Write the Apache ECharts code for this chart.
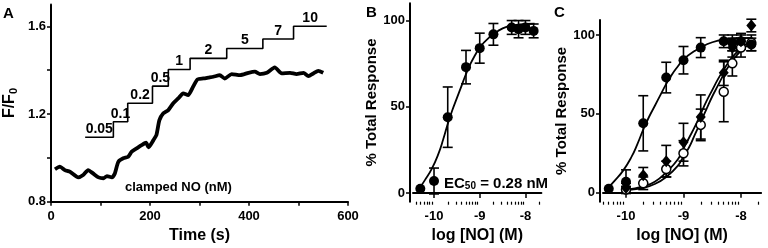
<!DOCTYPE html>
<html>
<head>
<meta charset="utf-8">
<script src="https://cdn.jsdelivr.net/npm/echarts@6/dist/echarts.min.js"></script>
<style>
  html, body { margin: 0; padding: 0; background: #fff; }
  #main { width: 768px; height: 248px; }
</style>
</head>
<body>
<div id="main"></div>
<script>
// ---- panel A: fluorescence trace ----
var timeS = [8,18,28,38,55,65,75,85,96,106,113,123,129,136,146,156,163,173,183,192,197,207,213,219,227,237,247,257,267,277,287,296,308,318,328,341,351,365,382,399,412,422,436,452,466,483,496,510,520,530,540,550];
var ratioF = [0.948,0.960,0.944,0.937,0.911,0.922,0.944,0.929,0.911,0.907,0.917,0.911,0.929,0.982,0.998,1.005,1.028,1.043,1.058,1.069,1.048,1.081,1.104,1.172,1.203,1.218,1.249,1.271,1.294,1.286,1.324,1.358,1.362,1.366,1.370,1.377,1.362,1.382,1.377,1.388,1.393,1.382,1.388,1.413,1.385,1.388,1.382,1.388,1.373,1.385,1.397,1.388];

// clamped NO staircase
var stepStart = [69,126,155,205,237,281,355,428,490];
var stepEnd = 557;
var stepLevel = [1.094,1.165,1.249,1.327,1.403,1.454,1.499,1.542,1.6];
var stepLabel = ['0.05','0.1','0.2','0.5','1','2','5','7','10'];

// ---- panels B/C: concentration response ----
var logNO = [-10.3,-10,-9.7,-9.3,-9,-8.7,-8.3,-8.15,-8,-7.82];
var ctrlMean = [2.5,7,44,73,84,92,96,95,96,94];
var ctrlErr  = [0,7.5,17.5,9.7,8.7,6.3,4,5,4,4];
var diaMean  = [null,3,11,20,32,48,76,92,96,106];
var diaErr   = [null,3,5,10,12,14,8,6,5,4];
var openMean = [null,2,6,15,25,43,64,82,92,95];
var openErr  = [null,2,4,5,8,10,19,8,6,5];

// fitted curves
var fitCtrlX = [-10.3,-10.2,-10.05,-9.9,-9.8,-9.7,-9.6,-9.5,-9.4,-9.3,-9.2,-9.1,-9.0,-8.8,-8.6,-8.4,-8.2,-8.0,-7.8];
var fitCtrlY = [3.5,7.5,14,23,31,40,48,55,62,69,75,80,84.5,90,94,96.5,97.5,98,98.2];
var fitCX = [-10.05,-9.9,-9.7,-9.5,-9.3,-9.1,-9.0,-8.9,-8.8,-8.7,-8.6,-8.5,-8.4,-8.3,-8.2,-8.1,-8.0,-7.9,-7.75];
var fitDiaY  = [2,2.5,4,7,13,21,28,35,42,50,58,65,72,78,83.5,88,91.5,94.5,97];
var fitOpenY = [1.5,2,3,5.5,10,17,23,29,37,45,53,61,68,75,81,86,90,93,95.5];

var FONT = 'Liberation Sans, Arial, sans-serif';
var BLACK = '#000';

function pairs(xs, ys) {
  var out = [];
  for (var i = 0; i < xs.length; i++) if (ys[i] != null) out.push([xs[i], ys[i]]);
  return out;
}
function errData(mean, err) {
  var out = [];
  for (var i = 0; i < logNO.length; i++) {
    if (mean[i] == null || !err[i]) continue;
    out.push([logNO[i], mean[i] - err[i], mean[i] + err[i]]);
  }
  return out;
}
function minorTicks(lo, hi) {
  var v = [];
  for (var d = -11; d <= -7; d++) {
    for (var k = 2; k <= 9; k++) {
      var p = d + Math.log10(k);
      if (p > lo && p < hi) v.push(p);
    }
  }
  return v;
}

var stepPts = [];
var stepLab = [];
for (var i = 0; i < stepStart.length; i++) {
  var e = i < stepStart.length - 1 ? stepStart[i + 1] : stepEnd;
  stepPts.push([stepStart[i], stepLevel[i]], [e, stepLevel[i]]);
  stepLab.push([(stepStart[i] + e) / 2, stepLevel[i]]);
}

var lbl = { color: BLACK, fontSize: 13, fontWeight: 'bold', fontFamily: FONT, margin: 5 };
var nameStyle = { color: BLACK, fontSize: 16, fontWeight: 'bold', fontFamily: FONT };
var line = { show: true, lineStyle: { color: BLACK, width: 2 } };

function errorBar(params, api) {
  var x = api.value(0);
  var lo = api.coord([x, api.value(1)]);
  var hi = api.coord([x, api.value(2)]);
  var w = 5;
  var st = { stroke: BLACK, lineWidth: 1.6 };
  return {
    type: 'group',
    children: [
      { type: 'line', shape: { x1: hi[0], y1: hi[1], x2: lo[0], y2: lo[1] }, style: st },
      { type: 'line', shape: { x1: hi[0] - w, y1: hi[1], x2: hi[0] + w, y2: hi[1] }, style: st },
      { type: 'line', shape: { x1: lo[0] - w, y1: lo[1], x2: lo[0] + w, y2: lo[1] }, style: st }
    ]
  };
}

var bMin = -10.46, bMax = -7.65, cMin = -10.4, cMax = -7.65;

function logAxes(grid, min, max) {
  return [{
    gridIndex: grid, type: 'value', min: min, max: max,
    axisLine: line,
    axisTick: { customValues: [-10, -9, -8], length: 5, lineStyle: { color: BLACK, width: 1.5 } },
    axisLabel: Object.assign({ customValues: [-10, -9, -8] }, lbl, { margin: 8 }),
    splitLine: { show: false },
    name: 'log [NO] (M)', nameLocation: 'middle', nameGap: 24, nameTextStyle: nameStyle
  }, {
    gridIndex: grid, type: 'value', min: min, max: max, position: 'bottom',
    axisLine: { show: false },
    axisTick: { customValues: minorTicks(min, max), length: 3, lineStyle: { color: BLACK, width: 1.2 } },
    axisLabel: { show: false },
    splitLine: { show: false }
  }];
}
function pctAxis(grid, min, max, gap) {
  return {
    gridIndex: grid, type: 'value', min: min, max: max, offset: 3,
    axisLine: line,
    axisTick: { customValues: [0, 50, 100], length: 4, lineStyle: { color: BLACK, width: 1.5 } },
    axisLabel: Object.assign({ customValues: [0, 50, 100] }, lbl),
    splitLine: { show: false },
    name: '% Total Response', nameLocation: 'middle', nameGap: gap,
    nameTextStyle: Object.assign({}, nameStyle, { fontSize: 15 })
  };
}

var chart = echarts.init(document.getElementById('main'), null, { renderer: 'canvas' });

var option = {
  backgroundColor: '#fff',
  animation: false,
  grid: [
    { left: 51, right: 420, top: 4.4, bottom: 46.3, containLabel: false, outerBoundsMode: 'none' },
    { left: 413, right: 226.6, top: 3.3, bottom: 46.3, containLabel: false, outerBoundsMode: 'none' },
    { left: 603, right: 6.9, top: 20, bottom: 46.3, containLabel: false, outerBoundsMode: 'none' }
  ],
  xAxis: [{
    gridIndex: 0, type: 'value', min: 0, max: 600,
    axisLine: line,
    axisTick: { customValues: [0, 100, 200, 300, 400, 500, 600], length: 4, lineStyle: { color: BLACK, width: 1.5 } },
    axisLabel: Object.assign({ customValues: [0, 200, 400, 600] }, lbl, { margin: 8 }),
    splitLine: { show: false },
    name: 'Time (s)', nameLocation: 'middle', nameGap: 18, nameTextStyle: nameStyle
  }].concat(logAxes(1, bMin, bMax)).concat(logAxes(2, cMin, cMax)),
  yAxis: [{
    gridIndex: 0, type: 'value', min: 0.8, max: 1.7,
    axisLine: line,
    axisTick: { customValues: [0.8, 1.0, 1.2, 1.4, 1.6], length: 4, lineStyle: { color: BLACK, width: 1.5 } },
    axisLabel: Object.assign({ customValues: [0.8, 1.2, 1.6], formatter: function (v) { return v.toFixed(1); } }, lbl),
    splitLine: { show: false },
    name: 'F/F{s|0}', nameLocation: 'middle', nameGap: 32,
    nameTextStyle: Object.assign({}, nameStyle, {
      rich: { s: { fontSize: 11, fontWeight: 'bold', fontFamily: FONT, color: BLACK, padding: [7, 0, 0, 0] } }
    })
  }, pctAxis(1, -5, 110, 27), pctAxis(2, -5.7, 109.5, 22)],
  series: [
    // A
    { type: 'line', xAxisIndex: 0, yAxisIndex: 0, data: pairs(timeS, ratioF), showSymbol: false,
      smooth: 0.2, lineStyle: { color: BLACK, width: 3.8 }, z: 3 },
    { type: 'line', xAxisIndex: 0, yAxisIndex: 0, data: stepPts, showSymbol: false,
      lineStyle: { color: BLACK, width: 1.6 }, z: 2 },
    { type: 'scatter', xAxisIndex: 0, yAxisIndex: 0, data: stepLab, symbolSize: 0,
      itemStyle: { color: BLACK }, z: 4,
      label: { show: true, position: 'top', distance: 1, color: BLACK, opacity: 1, textBorderWidth: 0,
        fontSize: 14, fontWeight: 'bold', fontFamily: FONT,
        formatter: function (p) { return stepLabel[p.dataIndex]; } } },
    // B
    { type: 'line', xAxisIndex: 1, yAxisIndex: 1, data: pairs(fitCtrlX, fitCtrlY), showSymbol: false,
      smooth: true, lineStyle: { color: BLACK, width: 1.8 }, z: 2 },
    { type: 'custom', xAxisIndex: 1, yAxisIndex: 1, data: errData(ctrlMean, ctrlErr),
      encode: { x: 0, y: [1, 2] }, renderItem: errorBar, z: 3 },
    { type: 'scatter', xAxisIndex: 1, yAxisIndex: 1, data: pairs(logNO, ctrlMean), symbol: 'circle', symbolSize: 10,
      itemStyle: { color: BLACK, opacity: 1 }, z: 4 },
    // C
    { type: 'line', xAxisIndex: 3, yAxisIndex: 2, data: pairs(fitCtrlX, fitCtrlY), showSymbol: false,
      smooth: true, lineStyle: { color: BLACK, width: 1.8 }, z: 2 },
    { type: 'line', xAxisIndex: 3, yAxisIndex: 2, data: pairs(fitCX, fitDiaY), showSymbol: false,
      smooth: true, lineStyle: { color: BLACK, width: 1.8 }, z: 2 },
    { type: 'line', xAxisIndex: 3, yAxisIndex: 2, data: pairs(fitCX, fitOpenY), showSymbol: false,
      smooth: true, lineStyle: { color: BLACK, width: 1.8 }, z: 2 },
    { type: 'custom', xAxisIndex: 3, yAxisIndex: 2, data: errData(ctrlMean, ctrlErr),
      encode: { x: 0, y: [1, 2] }, renderItem: errorBar, z: 3 },
    { type: 'custom', xAxisIndex: 3, yAxisIndex: 2, data: errData(diaMean, diaErr),
      encode: { x: 0, y: [1, 2] }, renderItem: errorBar, z: 3 },
    { type: 'custom', xAxisIndex: 3, yAxisIndex: 2, data: errData(openMean, openErr),
      encode: { x: 0, y: [1, 2] }, renderItem: errorBar, z: 3 },
    { type: 'scatter', xAxisIndex: 3, yAxisIndex: 2, data: pairs(logNO, openMean), symbol: 'circle', symbolSize: 9,
      itemStyle: { color: '#fff', borderColor: BLACK, borderWidth: 1.5, opacity: 1 }, z: 4 },
    { type: 'scatter', xAxisIndex: 3, yAxisIndex: 2, data: pairs(logNO, diaMean), symbol: 'diamond', symbolSize: [10, 12],
      itemStyle: { color: BLACK, opacity: 1 }, z: 5 },
    { type: 'scatter', xAxisIndex: 3, yAxisIndex: 2, data: pairs(logNO, ctrlMean), symbol: 'circle', symbolSize: 10,
      itemStyle: { color: BLACK, opacity: 1 }, z: 6 }
  ],
  graphic: [
    { type: 'text', left: 3, top: 6, style: { text: 'A', fill: BLACK, fontSize: 15, fontWeight: 'bold', fontFamily: FONT } },
    { type: 'text', left: 366, top: 5, style: { text: 'B', fill: BLACK, fontSize: 15, fontWeight: 'bold', fontFamily: FONT } },
    { type: 'text', left: 554, top: 5, style: { text: 'C', fill: BLACK, fontSize: 15, fontWeight: 'bold', fontFamily: FONT } },
    { type: 'text', left: 125, top: 181, style: { text: 'clamped NO (nM)', fill: BLACK, fontSize: 13, fontWeight: 'bold', fontFamily: FONT } },
    { type: 'text', left: 444, top: 176, style: {
        text: 'EC{s|50} = 0.28 nM', fill: BLACK, fontSize: 15, fontWeight: 'bold', fontFamily: FONT,
        rich: { s: { fontSize: 10, fontWeight: 'bold', fontFamily: FONT, fill: BLACK, padding: [6, 0, 0, 0] } } } }
  ]
};
chart.setOption(option);
</script>
</body>
</html>
